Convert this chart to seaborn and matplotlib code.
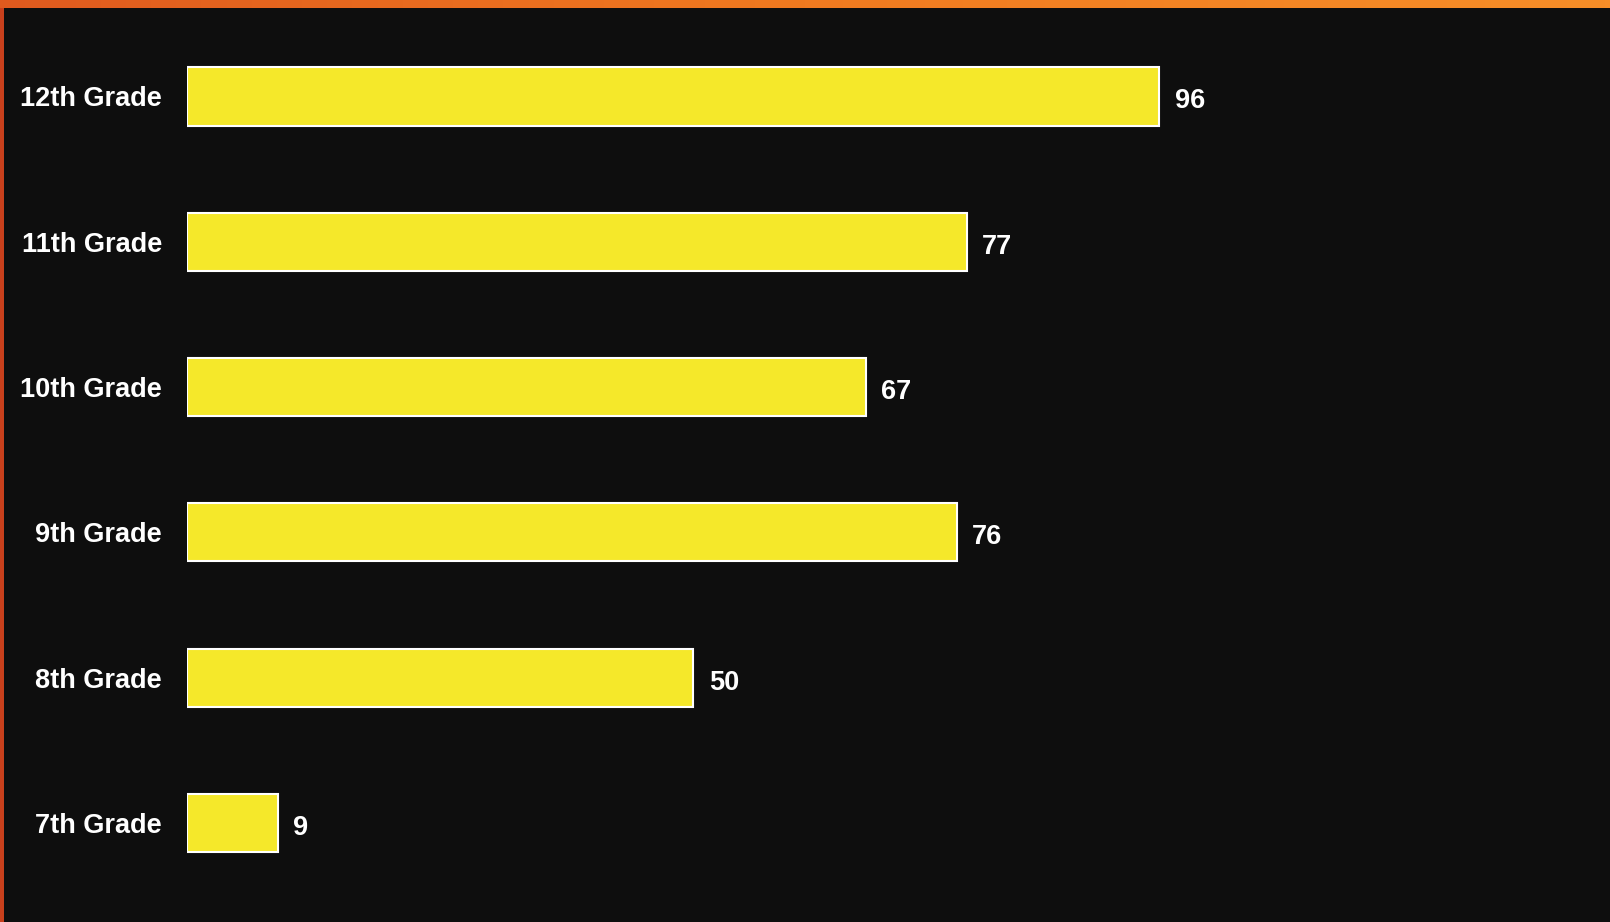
import matplotlib
matplotlib.use("Agg")
import matplotlib.pyplot as plt
import seaborn as sns
import numpy as np
import pandas as pd
from matplotlib.colors import LinearSegmentedColormap

categories = ["12th Grade", "11th Grade", "10th Grade", "9th Grade", "8th Grade", "7th Grade"]
values = [96, 77, 67, 76, 50, 9]

sns.set_style("dark")
plt.rcParams['font.family'] = ['Liberation Sans', 'DejaVu Sans']

W, H = 1610, 922
fig = plt.figure(figsize=(W / 100, H / 100), dpi=100)
bg = "#0e0e0e"
fig.patch.set_facecolor(bg)

ax = fig.add_axes([187 / W, 0, 1423 / W, 1])
ax.set_facecolor(bg)
df = pd.DataFrame({"grade": categories, "value": values})
sns.barplot(data=df, x="value", y="grade", orient="h", color="#f5e82a",
            edgecolor="white", linewidth=1.5, width=0.40, saturation=1, ax=ax)
ax.set_xlim(0, 140.5)
ax.set_ylim(5.681, -0.664)
ax.set_xlabel("")
ax.set_ylabel("")
ax.set_xticks([])
for s in ax.spines.values():
    s.set_visible(False)
ax.tick_params(axis="y", length=0, pad=18, labelsize=19.5, labelcolor="white")
for lbl in ax.get_yticklabels():
    lbl.set_fontweight("bold")
ax.grid(False)
for c in ax.containers:
    texts = ax.bar_label(c, padding=11, color="white", fontsize=19.5, fontweight="bold")
    for t in texts:
        t.xyann = (11, -3.5)

# orange frame strips
top = fig.add_axes([0, 1 - 8 / H, 1, 8 / H])
grad = np.linspace(0, 1, 256)[None, :]
cmap = LinearSegmentedColormap.from_list("o", ["#e05a1e", "#f07a20", "#f78e28"])
top.imshow(grad, aspect="auto", cmap=cmap)
top.axis("off")
left = fig.add_axes([0, 0, 4 / W, 1 - 8 / H])
left.set_facecolor("#c8401c")
left.set_xticks([]); left.set_yticks([])
for s in left.spines.values():
    s.set_visible(False)

fig.savefig("out.png", dpi=100, facecolor=fig.get_facecolor())
